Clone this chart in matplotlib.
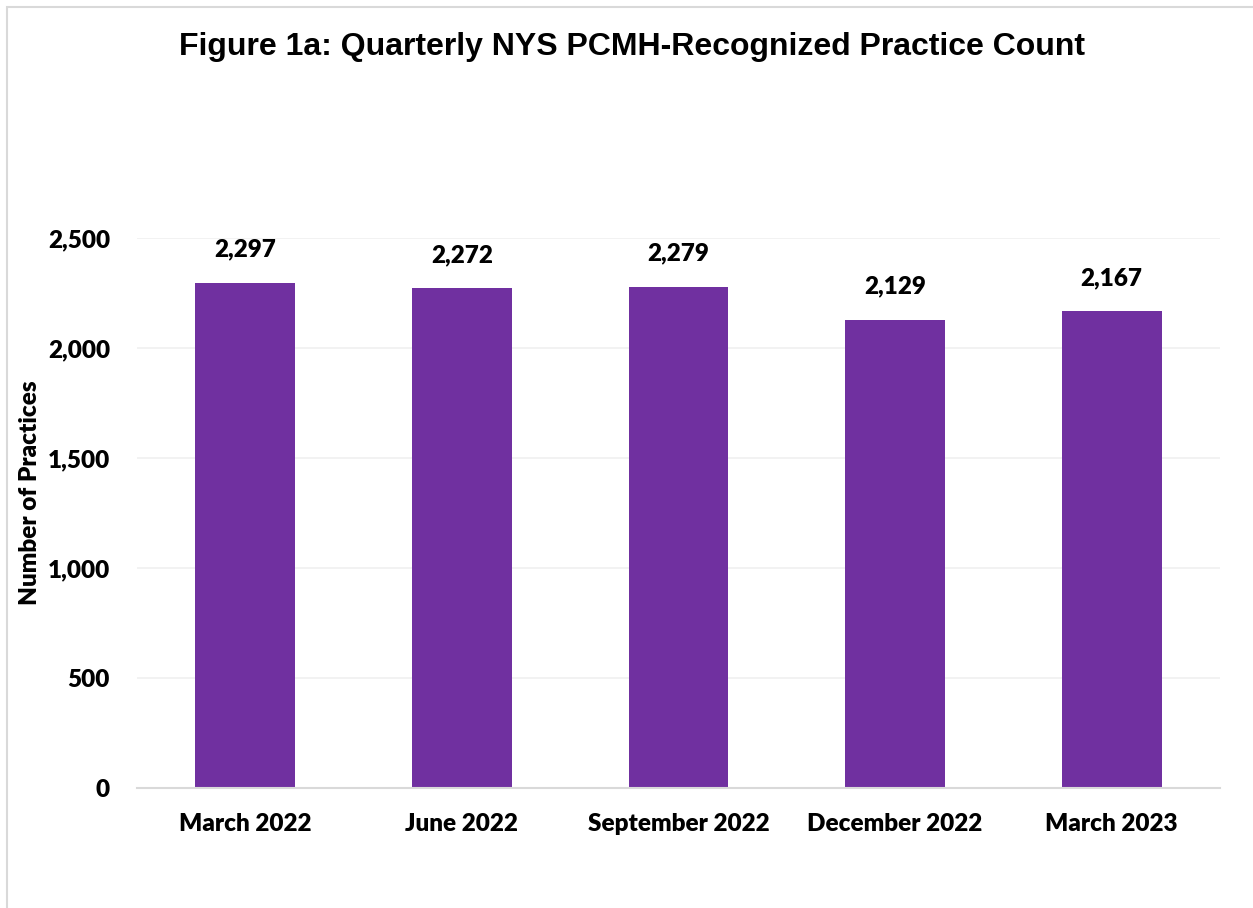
import matplotlib
matplotlib.use("Agg")
import matplotlib.pyplot as plt
from matplotlib.patches import Rectangle

categories = ["March 2022", "June 2022", "September 2022", "December 2022", "March 2023"]
values = [2297, 2272, 2279, 2129, 2167]
yticks = [0, 500, 1000, 1500, 2000, 2500]

W, H = 1253, 908
fig = plt.figure(figsize=(W / 100, H / 100), dpi=100)
fig.patch.set_facecolor("white")

# outer frame
fig.add_artist(Rectangle((7 / W, -0.1), 1.2, 1 - 7 / H + 0.1, transform=fig.transFigure,
                         fill=False, edgecolor="#d9d9d9", linewidth=1.5))

ax = fig.add_axes([137 / W, 1 - 788 / H, (1220 - 137) / W, (788 - 238) / H])
x = list(range(len(categories)))
ax.bar(x, values, width=0.46, color="#7030a0", zorder=3)
ax.set_xlim(-0.5, len(categories) - 0.5)
ax.set_ylim(0, 2500)
ax.set_yticks(yticks)
ax.set_yticklabels([f"{v:,}" for v in yticks])
ax.set_xticks(x)
ax.set_xticklabels(categories)

FS = 17.5
fam = ["Lato", "DejaVu Sans"]
lbl_font = dict(family=fam, weight="heavy", size=FS)
for t in ax.get_xticklabels() + ax.get_yticklabels():
    t.set_fontfamily(fam)
    t.set_fontweight("heavy")
    t.set_fontsize(FS)
ax.tick_params(axis="both", length=0)
ax.tick_params(axis="y", pad=19.5)
ax.tick_params(axis="x", pad=18)

ax.grid(axis="y", color="#f0f0f0", linewidth=1.2, zorder=0)
ax.set_axisbelow(True)
for s in ["top", "right", "left"]:
    ax.spines[s].set_visible(False)
ax.spines["bottom"].set_color("#d9d9d9")
ax.spines["bottom"].set_linewidth(1.5)
ax.spines["bottom"].set_zorder(4)

for xi, v in zip(x, values):
    ax.annotate(f"{v:,}", (xi, v), xytext=(0, 16), textcoords="offset points",
                ha="center", va="bottom", **lbl_font)

fig.text(30 / W, 1 - 493 / H, "Number of Practices", rotation=90, ha="center", va="center",
         **lbl_font)

fig.text(632 / W, 1 - 47 / H, "Figure 1a: Quarterly NYS PCMH-Recognized Practice Count",
         ha="center", va="center", family=["Liberation Sans", "DejaVu Sans"],
         weight="bold", size=23)

fig.savefig("out.png", dpi=100)
